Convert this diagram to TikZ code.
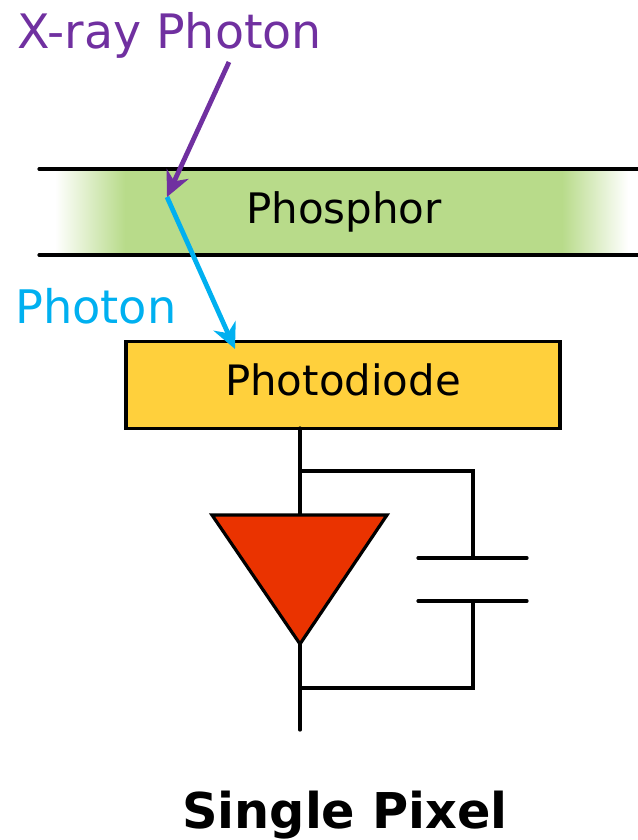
\documentclass[tikz,border=0pt]{standalone}
\usepackage{fontspec}
\setmainfont{DejaVu Sans}
\usetikzlibrary{arrows.meta}
\definecolor{phosphorgreen}{HTML}{B8DB8A}
\definecolor{diodeyellow}{HTML}{FFD03C}
\definecolor{xraypurple}{HTML}{7030A0}
\definecolor{photonblue}{HTML}{00B0F0}
\definecolor{triangred}{HTML}{EA3300}
\tikzset{
  wire/.style={line width=2.4pt,line cap=round},
  ray/.style={line width=3.6pt,-{Stealth[length=19pt,width=18pt,inset=6pt]}}
}

\begin{document}
\begin{tikzpicture}[x=0.75pt,y=-0.75pt]
      \useasboundingbox (0,0) rectangle (638,840);
      % phosphor
      \fill[phosphorgreen] (125,170) rectangle (562,255);
      \shade[left color=white,right color=phosphorgreen,draw=none] (55,170) rectangle (125,255);
      \shade[left color=phosphorgreen,right color=white,draw=none] (562,170) rectangle (628,255);
      \draw[wire] (39,169) -- (638,169);
      \draw[wire] (39,255) -- (638,255);
      \node[anchor=base,inner sep=0pt,font=\fontsize{31.5pt}{36pt}\selectfont] (phosphor) at (344,223) {Phosphor};
      % photodiode
      \node[draw,wire,fill=diodeyellow,minimum width=325.5pt,minimum height=65.25pt,inner sep=0pt] (diode) at (343,385) {};
      \node[anchor=base,inner sep=0pt,font=\fontsize{31.4pt}{36pt}\selectfont] (diodelabel) at (343,395) {Photodiode};
      % circuit
      \coordinate (top) at (300,428);
      \coordinate (bottom) at (300,730);
      \coordinate (tap1) at (300,471);
      \coordinate (tap2) at (300,688);
      \coordinate (corner1) at (473,471);
      \coordinate (corner2) at (473,688);
      \coordinate (plate1) at (473,558);
      \coordinate (plate2) at (473,601);
      \draw[wire] (top) -- (bottom);
      \draw[wire] (tap1) -- (corner1) -- (plate1);
      \draw[wire] (plate2) -- (corner2) -- (tap2);
      \draw[wire] (418,558) -- (527,558);
      \draw[wire] (418,601) -- (527,601);
      \draw[wire,fill=triangred,line join=miter] (212,515) -- (387,515) -- (300,644) -- cycle;
      % rays
      \coordinate (xstart) at (229,62);
      \coordinate (hit) at (167,197);
      \coordinate (pend) at (235,349);
      \draw[ray,photonblue] (hit) -- (pend);
      \draw[ray,xraypurple] (xstart) -- (hit);
      \node[xraypurple,anchor=base west,inner sep=0pt,font=\fontsize{35.6pt}{38pt}\selectfont] (xlabel) at (17,48) {X-ray Photon};
      \node[photonblue,anchor=base west,inner sep=0pt,font=\fontsize{34.7pt}{38pt}\selectfont] (plabel) at (15,323) {Photon};
      \node[anchor=base,inner sep=0pt,font=\fontsize{37pt}{42pt}\selectfont\bfseries] (title) at (345,828) {Single Pixel};
    \end{tikzpicture}
\end{document}
